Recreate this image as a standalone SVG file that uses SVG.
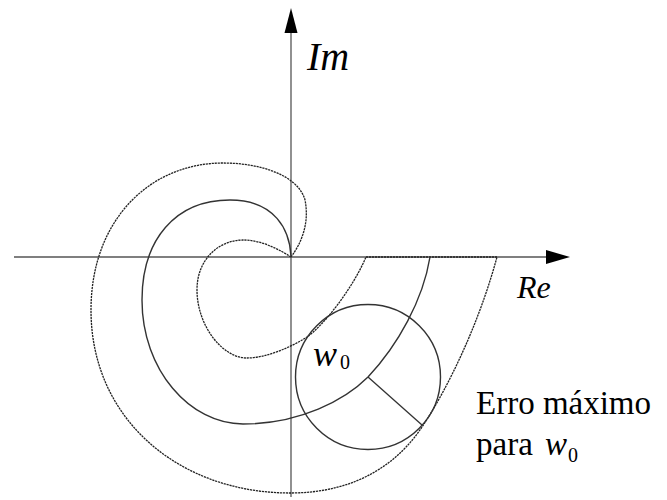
<svg xmlns="http://www.w3.org/2000/svg" width="667" height="500" viewBox="0 0 667 500">
<rect width="667" height="500" fill="#fff"/>
<text x="307" y="70" font-size="40" font-family="Liberation Serif" font-style="italic">Im</text>
<text x="517" y="298" font-size="32" font-family="Liberation Serif" font-style="italic">Re</text>
<text x="313" y="366" font-size="36" font-family="Liberation Serif" font-style="italic">w</text>
<text x="340" y="369" font-size="20" font-family="Liberation Serif">0</text>
<text x="476" y="414" font-size="33" font-family="Liberation Serif">Erro máximo</text>
<text x="476" y="455" font-size="33" font-family="Liberation Serif">para</text>
<text x="545" y="455" font-size="33" font-family="Liberation Serif" font-style="italic">w</text>
<text x="568" y="462" font-size="20" font-family="Liberation Serif">0</text>
<defs>
<polygon id="arrowhead" points="0,0 -24,-7 -24,7" fill="#000"/>
</defs>
<g id="axes" stroke="#555" stroke-width="1.3" fill="none">
<line x1="14" y1="257" x2="550" y2="257"/>
<line x1="291" y1="497" x2="291" y2="30"/>
</g>
<use href="#arrowhead" x="570" y="257"/>
<polygon points="291,8 284.5,33 297.5,33" fill="#000"/>
<g id="connectors" fill="none">
<g stroke="#222" stroke-width="1.3" stroke-dasharray="2.2 0.8">
<path id="inner" d="M291,257 C280,250 262,240 243,240 C220,240 197,258 197,290 C197,325 222,358 247,358 C265,358 290,348 307,337 C322,327 352,290 366,257"/>
<path id="outer" d="M291,257 C300,245 310,225 305,200 C298,175 260,163 223,163 C150,163 91,220 91,310 C91,420 180,493 290,493 C360,493 400,460 422,427 C450,385 480,320 497,257"/>
<line x1="366" y1="257" x2="497" y2="257"/>
</g>
<g stroke="#333" stroke-width="1.4">
<path id="middle" d="M291,257 C290,230 275,200 230,200 C175,200 142,240 142,300 C142,370 190,424 243,424 C300,424 345,400 368,377 C398,345 423,300 430,257"/>
<line x1="368" y1="377" x2="422" y2="425"/>
</g>
</g>
<g id="circle">
<circle cx="368" cy="377" r="72.5" fill="none" stroke="#333" stroke-width="1.4"/>
</g>
</svg>
